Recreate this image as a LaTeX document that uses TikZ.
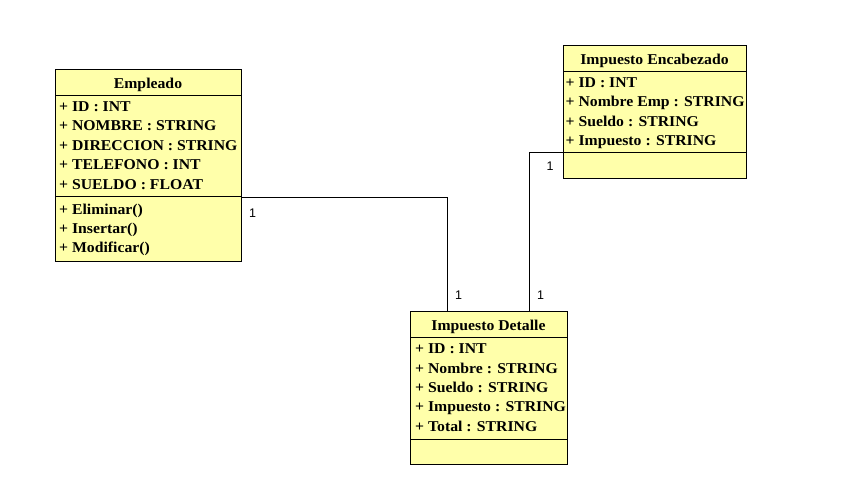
\documentclass[tikz,border=0pt]{standalone}
\usepackage{fontspec}
\setmainfont{Liberation Serif}[FakeStretch=1.05]
\newfontfamily\lblfont{Liberation Sans}
\definecolor{classfill}{RGB}{255,255,170}
\begin{document}
\begin{tikzpicture}[x=1pt,y=-1pt,
  classbox/.style={draw=black,line width=0.9pt,fill=classfill,inner sep=0pt,outer sep=0pt},
  ttl/.style={anchor=base,inner sep=0pt,font=\fontsize{15}{15}\selectfont\bfseries},
  attr/.style={anchor=base west,inner sep=0pt,font=\fontsize{15}{15}\selectfont\bfseries},
  sep/.style={line width=0.9pt},
  conn/.style={line width=0.7pt},
  mult/.style={anchor=base west,inner sep=0pt,font=\lblfont\fontsize{12.5}{12.5}\selectfont}]
\useasboundingbox (0,0) rectangle (847,503);
% Empleado
\node[classbox,minimum width=186pt,minimum height=192pt] (emp) at (148,165) {};
\draw[sep] (55,95.5) -- (241,95.5);
\draw[sep] (55,196.5) -- (241,196.5);
\node[ttl] (empT) at (148,88.3) {Empleado};
\node[attr] (emp1) at (59,111) {+ ID : INT};
\node[attr] (emp2) at (59,130.7) {+ NOMBRE : STRING};
\node[attr] (emp3) at (59,150) {+ DIRECCION : STRING};
\node[attr] (emp4) at (59,169.5) {+ TELEFONO : INT};
\node[attr] (emp5) at (59,189) {+ SUELDO : FLOAT};
\node[attr] (emp6) at (59,214.5) {+ Eliminar()};
\node[attr] (emp7) at (59,233.5) {+ Insertar()};
\node[attr] (emp8) at (59,252.5) {+ Modificar()};
% Impuesto Encabezado
\node[classbox,minimum width=183pt,minimum height=133pt] (enc) at (654.5,111.5) {};
\draw[sep] (563,71.5) -- (746,71.5);
\draw[sep] (563,152) -- (746,152);
\node[ttl] (encT) at (654.5,65) {Impuesto Encabezado};
\node[attr] (enc1) at (565.5,87.3) {+ ID : INT};
\node[attr] (enc2) at (565.5,106.7) {+ Nombre Emp : STRING};
\node[attr] (enc3) at (565.5,126.5) {+ Sueldo : STRING};
\node[attr] (enc4) at (565.5,146) {+ Impuesto : STRING};
% Impuesto Detalle
\node[classbox,minimum width=157pt,minimum height=153pt] (det) at (488.5,387.5) {};
\draw[sep] (410,337.5) -- (567,337.5);
\draw[sep] (410,439) -- (567,439);
\node[ttl] (detT) at (488.5,330) {Impuesto Detalle};
\node[attr] (det1) at (415,353.3) {+ ID : INT};
\node[attr] (det2) at (415,373) {+ Nombre : STRING};
\node[attr] (det3) at (415,392.5) {+ Sueldo : STRING};
\node[attr] (det4) at (415,411.7) {+ Impuesto : STRING};
\node[attr] (det5) at (415,431) {+ Total : STRING};
% connectors
\coordinate (empOut) at (emp.east |- 0,197);
\coordinate (detInA) at (det.north -| 447.5,0);
\coordinate (encOut) at (enc.west |- 0,152);
\coordinate (detInB) at (det.north -| 529,0);
\draw[conn] (empOut) -| (detInA);
\draw[conn] (encOut) -| (detInB);
% multiplicities
\node[mult] (m1) at (249,217) {1};
\node[mult] (m2) at (455,299.5) {1};
\node[mult] (m3) at (537,299.5) {1};
\node[mult] (m4) at (546.5,171) {1};
\end{tikzpicture}
\end{document}
